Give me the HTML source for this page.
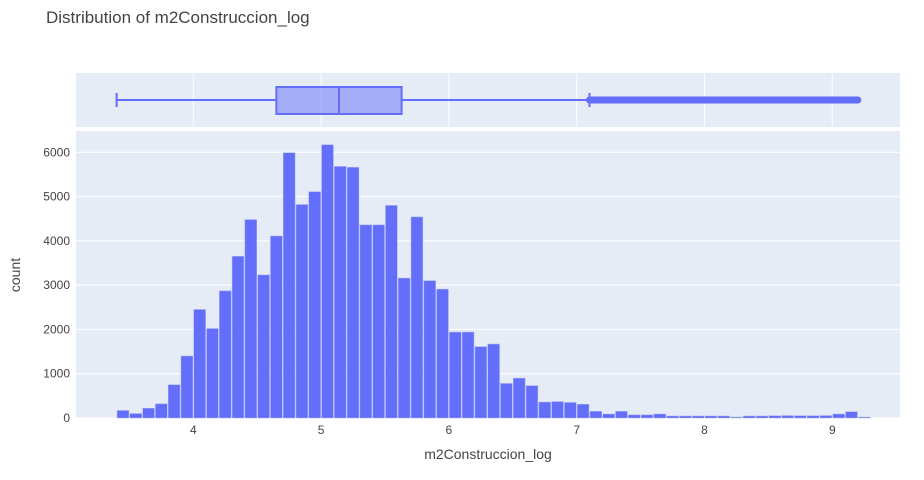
<!DOCTYPE html>
<html><head><meta charset="utf-8"><style>
body{margin:0;background:#fff;font-family:"Liberation Sans",sans-serif}
text{font-family:"Liberation Sans",sans-serif}
</style></head><body>
<svg id="chart" width="924" height="475">
<text x="46" y="23" font-size="17" fill="#444">Distribution of m2Construccion_log</text>
<rect x="76" y="73" width="824" height="54" fill="#e5ecf6"/>
<rect x="76" y="131" width="824" height="287" fill="#e5ecf6"/>
<g id="grid"></g><g id="bars"></g><g id="box"></g><g id="axes"></g>
<text x="488" y="459" font-size="14" fill="#444" text-anchor="middle">m2Construccion_log</text>
<text x="20" y="275" font-size="14" fill="#444" text-anchor="middle" transform="rotate(-90 20 275)">count</text>
</svg>
<script>
const binStarts=[3.4,3.5,3.6,3.7,3.8,3.9,4.0,4.1,4.2,4.3,4.4,4.5,4.6,4.7,4.8,4.9,5.0,5.1,5.2,5.3,5.4,5.5,5.6,5.7,5.8,5.9,6.0,6.1,6.2,6.3,6.4,6.5,6.6,6.7,6.8,6.9,7.0,7.1,7.2,7.3,7.4,7.5,7.6,7.7,7.8,7.9,8.0,8.1,8.2,8.3,8.4,8.5,8.6,8.7,8.8,8.9,9.0,9.1,9.2];
const counts=[170,100,220,320,750,1400,2450,2020,2870,3650,4480,3230,4110,5990,4820,5110,6170,5680,5660,4360,4360,4800,3160,4540,3100,2910,1940,1940,1610,1670,780,900,730,360,370,350,310,150,90,150,70,70,90,45,45,45,45,45,20,45,45,50,55,50,50,55,90,140,20];
const binWidth=0.1;
const xTicks=[4,5,6,7,8,9];
const yTicks=[0,1000,2000,3000,4000,5000,6000];
const boxStats={min:3.4,q1:4.65,median:5.14,q3:5.63,upperFence:7.1,maxOutlier:9.2};
const NS="http://www.w3.org/2000/svg";
const X=v=>193.3+(v-4)*127.8;
const Y=c=>418-c*(265.7/6000);
function mk(tag,attrs,parent){const e=document.createElementNS(NS,tag);for(const k in attrs)e.setAttribute(k,attrs[k]);document.getElementById(parent).appendChild(e);return e;}
xTicks.forEach(t=>{
 let l=mk('line',{x1:X(t),x2:X(t),y1:73,y2:127,stroke:'#fff','stroke-width':1},'grid');
 
 
 let tx=mk('text',{x:X(t),y:434,'font-size':12,fill:'#444','text-anchor':'middle'},'axes');tx.textContent=t;
 
 
});
yTicks.forEach(t=>{
 let l=mk('line',{x1:76,x2:900,y1:Y(t),y2:Y(t),stroke:'#fff','stroke-width':1},'grid');
 
 
 let tx=mk('text',{x:70,y:Y(t)+4,'font-size':12,fill:'#444','text-anchor':'end'},'axes');tx.textContent=t;
 
 
});
binStarts.forEach((b,i)=>{
 const x0=X(b),x1=X(b+binWidth);
 let r=mk('rect',{x:x0+0.5,y:Y(counts[i]),width:x1-x0-1,height:418-Y(counts[i]),fill:'#636efa',stroke:'#a3a9f7','stroke-width':0.5},'bars');
 
 
});
const s=boxStats,c=100;
let w1=mk('line',{x1:X(s.min),x2:X(s.q1),y1:c,y2:c,stroke:'#636efa','stroke-width':2},'box');


let cap1=mk('line',{x1:X(s.min),x2:X(s.min),y1:93,y2:107,stroke:'#636efa','stroke-width':2},'box');


let bx=mk('rect',{x:X(s.q1),y:87,width:X(s.q3)-X(s.q1),height:27,fill:'rgba(99,110,250,0.5)',stroke:'#636efa','stroke-width':2},'box');


let md=mk('line',{x1:X(s.median),x2:X(s.median),y1:87,y2:114,stroke:'#636efa','stroke-width':2},'box');


let w2=mk('line',{x1:X(s.q3),x2:X(s.upperFence),y1:c,y2:c,stroke:'#636efa','stroke-width':2},'box');


let cap2=mk('line',{x1:X(s.upperFence),x2:X(s.upperFence),y1:93,y2:107,stroke:'#636efa','stroke-width':2},'box');


let out=mk('line',{x1:X(s.upperFence),x2:X(s.maxOutlier),y1:c,y2:c,stroke:'#636efa','stroke-width':7,'stroke-linecap':'round'},'box');


</script>
</body></html>
